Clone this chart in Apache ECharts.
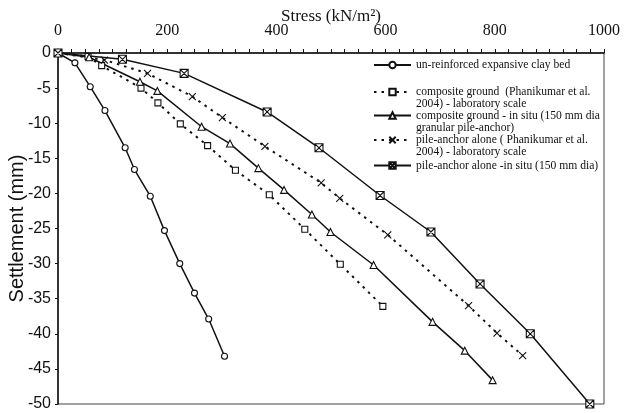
<!DOCTYPE html>
<html>
<head>
<meta charset="utf-8">
<script src="https://cdn.jsdelivr.net/npm/echarts@6/dist/echarts.min.js"></script>
<style>html,body{margin:0;padding:0;background:#fff}#c{width:624px;height:413px}</style>
</head>
<body>
<div id="c"></div>
<script>
// Stress (kN/m2) , Settlement (mm)
const unreinforced = [[0,0],[31,-1.4],[59,-4.8],[86,-8.2],[123,-13.5],[140,-16.6],[169,-20.4],[195,-25.3],[223,-30],[250,-34.2],[276,-37.9],[305,-43.2]];
const compositeLab = [[0,0],[55,-0.5],[80,-1.8],[152,-5.0],[183,-7.1],[224,-10.1],[274,-13.2],[325,-16.7],[387,-20.2],[452,-25.1],[517,-30.1],[595,-36.1]];
const compositeInSitu = [[0,0],[57,-0.6],[150,-4.1],[182,-5.4],[263,-10.5],[315,-12.9],[367,-16.4],[414,-19.5],[465,-23],[499,-25.5],[578,-30.2],[686,-38.3],[745,-42.4],[796,-46.6]];
const anchorLab = [[0,0],[85,-1.0],[164,-2.9],[246,-6.2],[301,-9.2],[379,-13.3],[482,-18.5],[516,-20.7],[604,-25.9],[752,-36.0],[804,-39.9],[851,-43.1]];
const anchorInSitu = [[0,0],[118,-0.9],[231,-2.9],[383,-8.4],[478,-13.5],[590,-20.3],[683,-25.5],[773,-32.9],[865,-40],[974,-50]];

const seriesNames = [
  'un-reinforced expansive clay bed',
  'composite ground  (Phanikumar et al.\n2004) - laboratory scale',
  'composite ground - in situ (150 mm dia\ngranular pile-anchor)',
  'pile-anchor alone ( Phanikumar et al.\n2004) - laboratory scale',
  'pile-anchor alone -in situ (150 mm dia)'
];
const xTicks = {min:0, max:1000, interval:200};
const yTicks = {min:-50, max:0, interval:5};

const serif = 'Liberation Serif';
const sans = 'Liberation Sans';
const symX = 'path://M0,0 L10,10 M10,0 L0,10';
const symBox = 'path://M0,0 L10,0 L10,10 L0,10 Z M0,0 L10,10 M10,0 L0,10';
const dashed = [2.5, 5];

function mk(name, data, symbol, size, dash) {
  return {
    name: name, type: 'line', data: data, symbol: symbol, symbolSize: size,
    lineStyle: {color: '#111', width: dash ? 2 : 1.5, type: dash ? dashed : 'solid'},
    itemStyle: {color: '#fff', borderColor: '#111', borderWidth: 1.1},
    emphasis: {disabled: true}, animation: false, z: 3
  };
}

const LH = 12;
const legendCenters = [65, 92, 115.5, 140, 165.5];
const legends = seriesNames.map(function (n, i) {
  const two = n.indexOf('\n') >= 0;
  return {
    data: [n], orient: 'vertical', left: 373,
    top: legendCenters[i] - (two ? 1.5 * LH : 0.5 * LH),
    padding: 0, itemWidth: 37, itemHeight: 8, itemGap: 0,
    selectedMode: false,
    formatter: function (name) { return name.indexOf('\n') >= 0 ? ' \n' + name : name; },
    textStyle: {fontFamily: serif, fontSize: 11.6, color: '#111', lineHeight: LH}
  };
});

const chart = echarts.init(document.getElementById('c'), null, {renderer: 'canvas'});
chart.setOption({
  backgroundColor: '#fff',
  animation: false,
  grid: {left: 58, right: 20, top: 53, bottom: 9, show: true, borderColor: '#444', borderWidth: 1,
    containLabel: false, outerBoundsMode: 'none'},
  legend: legends,
  xAxis: {
    type: 'value', position: 'top', min: xTicks.min, max: xTicks.max, interval: xTicks.interval,
    name: 'Stress (kN/m²)', nameLocation: 'middle', nameGap: 28, nameMoveOverlap: false,
    nameTextStyle: {fontFamily: serif, fontSize: 17, color: '#111'},
    axisLine: {show: true, lineStyle: {color: '#111', width: 1.5}},
    axisTick: {show: true, inside: false, length: 4, lineStyle: {color: '#111'}},
    minorTick: {show: true, splitNumber: 8, length: 4, lineStyle: {color: '#111'}},
    splitLine: {show: false},
    axisLabel: {fontFamily: serif, fontSize: 16, color: '#111', margin: 14,
      formatter: function (v) { return String(v); }}
  },
  yAxis: {
    type: 'value', min: yTicks.min, max: yTicks.max, interval: yTicks.interval,
    name: 'Settlement (mm)', nameLocation: 'middle', nameGap: 31, nameMoveOverlap: false,
    nameTextStyle: {fontFamily: sans, fontSize: 20, color: '#111'},
    axisLine: {show: true, onZero: false, lineStyle: {color: '#111', width: 1.5}},
    axisTick: {show: true, inside: false, length: 3, lineStyle: {color: '#111'}},
    splitLine: {show: false},
    axisLabel: {fontFamily: sans, fontSize: 16, color: '#111', margin: 7}
  },
  series: [
    mk(seriesNames[0], unreinforced, 'circle', 6, false),
    mk(seriesNames[1], compositeLab, 'rect', 6, true),
    mk(seriesNames[2], compositeInSitu, 'triangle', 7, false),
    mk(seriesNames[3], anchorLab, symX, 7, true),
    mk(seriesNames[4], anchorInSitu, symBox, 8, false)
  ]
});
</script>
</body>
</html>
